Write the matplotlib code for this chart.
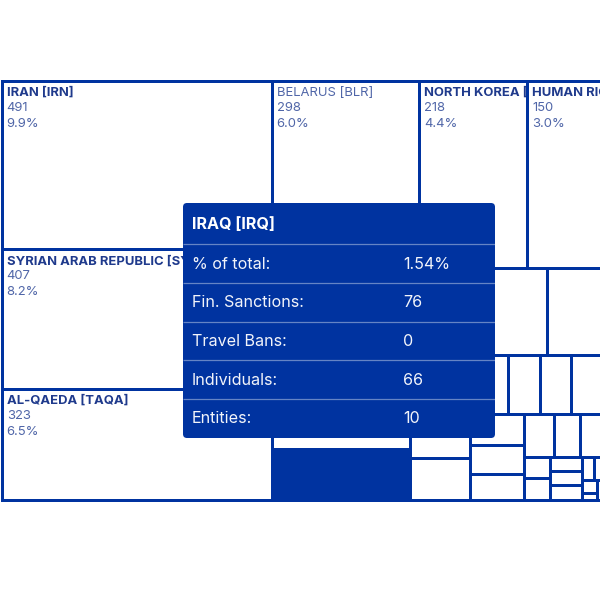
import matplotlib
matplotlib.use("Agg")
import matplotlib.pyplot as plt
from matplotlib.patches import Rectangle, FancyBboxPatch
from matplotlib.transforms import Bbox, TransformedBbox

plt.rcParams["font.family"] = ["Inter", "DejaVu Sans"]

# ---------------- data ----------------
names = ["IRAN [IRN]", "SYRIAN ARAB REPUBLIC [SYR]", "AL-QAEDA [TAQA]", "BELARUS [BLR]",
         "NORTH KOREA [PRK]", "HUMAN RIGHTS [GHR]", None, None, "IRAQ [IRQ]",
         None, None, None, None, None, None, None, None, None, None, None, None, None,
         None, None, None, None, None, None, None, None, None, None, None, None, None]
values = [491, 407, 323, 298, 218, 150, 140, 130, 76,
          66, 64, 52, 36, 30, 27, 24, 20, 20, 19, 18, 17, 15,
          14, 12, 10, 6, 6, 5, 5, 5, 3, 2, 2, 1, 1]
TOTAL = 4940          # total designations (percent base)
regular_weight = ["BELARUS [BLR]"]
highlight = "IRAQ [IRQ]"

tooltip_title = "IRAQ [IRQ]"
tooltip_labels = ["% of total:", "Fin. Sanctions:", "Travel Bans:", "Individuals:", "Entities:"]
tooltip_values = ["1.54%", "76", "0", "66", "10"]

# ---------------- style ----------------
BLUE = "#0033a0"
NAME_C = "#1f3a8c"
NUM_C = "#5066a8"
LABEL_MIN = 100
LW = 3 * 72 / 100  # 3 px


def squarify(vals, x0, y0, x1, y1, ratio=(1 + 5 ** 0.5) / 2):
    """d3.treemapSquarify layout"""
    rects = [None] * len(vals)
    value = float(sum(vals))
    n = len(vals)
    i0 = i1 = 0
    while i0 < n:
        dx, dy = x1 - x0, y1 - y0
        sum_v = vals[i1]
        i1 += 1
        min_v = max_v = sum_v
        alpha = max(dy / dx, dx / dy) / (value * ratio)
        beta = sum_v * sum_v * alpha
        min_ratio = max(max_v / beta, beta / min_v)
        while i1 < n:
            v = vals[i1]
            s = sum_v + v
            mn, mx = min(min_v, v), max(max_v, v)
            beta = s * s * alpha
            new_ratio = max(mx / beta, beta / mn)
            if new_ratio > min_ratio:
                break
            sum_v, min_v, max_v, min_ratio = s, mn, mx, new_ratio
            i1 += 1
        row = range(i0, i1)
        if dx < dy:
            ny = y0 + dy * sum_v / value
            xx = x0
            for k in row:
                w = dx * vals[k] / sum_v
                rects[k] = (xx, y0, w, ny - y0)
                xx += w
            y0 = ny
        else:
            nx = x0 + dx * sum_v / value
            yy = y0
            for k in row:
                h = dy * vals[k] / sum_v
                rects[k] = (x0, yy, nx - x0, h)
                yy += h
            x0 = nx
        value -= sum_v
        i0 = i1
    return rects


fig = plt.figure(figsize=(6, 6), dpi=100)
ax = fig.add_axes([0, 0, 1, 1])
ax.set_xlim(0, 600)
ax.set_ylim(600, 0)
ax.axis("off")

rects = squarify(values, 1.5, 80.5, 601.5, 499.5)

for name, val, (x, y, w, h) in zip(names, values, rects):
    fc = BLUE if name == highlight else "white"
    ax.add_patch(Rectangle((x, y), w, h, facecolor=fc, edgecolor=BLUE, linewidth=LW, zorder=2))
    if name is not None and val >= LABEL_MIN:
        cbox = TransformedBbox(Bbox.from_extents(x + 1.5, y + 1.5, x + w - 1.5, y + h - 1.5),
                               ax.transData)
        bold = name not in regular_weight
        lines = [(name, NAME_C if bold else NUM_C, "bold" if bold else "normal", 15.5),
                 (f"{val}", NUM_C, "normal", 30.4),
                 (f"{100 * val / TOTAL:.1f}%", NUM_C, "normal", 46.2)]
        for txt, col, wt, dy in lines:
            t = ax.text(x + 5.2, y + dy, txt, color=col, fontsize=9.4, fontweight=wt,
                        ha="left", va="baseline", zorder=3, clip_on=True)
            t.set_clip_box(cbox)

# ---------------- tooltip ----------------
tx0, ty0, tx1, ty1 = 183, 203, 495, 438
ax.add_patch(FancyBboxPatch((tx0, ty0), tx1 - tx0, ty1 - ty0,
                            boxstyle="round,pad=0,rounding_size=4",
                            facecolor=BLUE, edgecolor="none", zorder=10))
ax.text(191.5, 224.5, tooltip_title, color="white", fontsize=11.6, fontweight="bold",
        ha="left", va="center", zorder=11)
head_h = 41.3
row_h = 38.7
for i, (lab, v) in enumerate(zip(tooltip_labels, tooltip_values)):
    sep_y = ty0 + head_h + i * row_h
    ax.plot([tx0, tx1], [sep_y, sep_y], color="white", alpha=0.4, linewidth=0.9, zorder=11,
            solid_capstyle="butt")
    cy = sep_y + row_h / 2 + 0.5
    ax.text(191.5, cy, lab, color="#f2f4fa", fontsize=11.6, ha="left", va="center", zorder=11)
    ax.text(403, cy, v, color="#f2f4fa", fontsize=11.6, ha="left", va="center", zorder=11)

fig.savefig("out.png", dpi=100, facecolor="white")
